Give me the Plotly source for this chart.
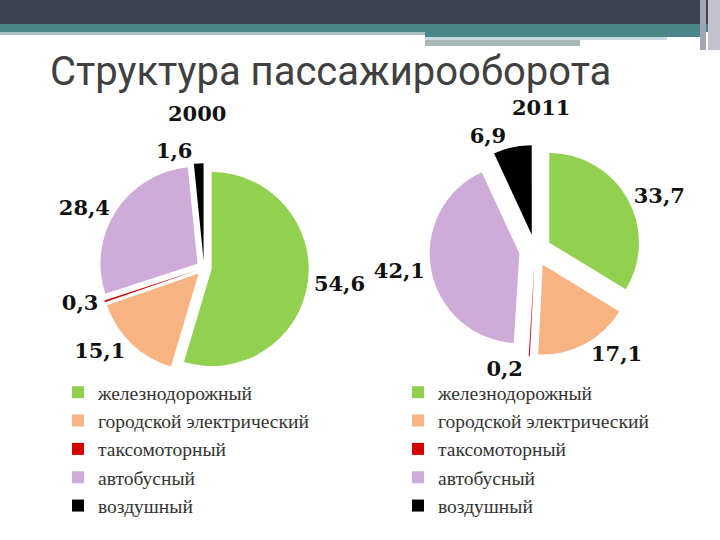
import plotly.graph_objects as go

categories = ["железнодорожный", "городской электрический", "таксомоторный", "автобусный", "воздушный"]
values_2000 = [54.6, 15.1, 0.3, 28.4, 1.6]
values_2011 = [33.7, 17.1, 0.2, 42.1, 6.9]
labels_2000 = ["54,6", "15,1", "0,3", "28,4", "1,6"]
labels_2011 = ["33,7", "17,1", "0,2", "42,1", "6,9"]
years = ["2000", "2011"]
title_text = "Структура пассажирооборота"

colors = ["#92D050", "#F8B383", "#D40000", "#CEABD9", "#000000"]

W, H = 720, 540


def py(px):
    return 1 - px / H


def px_(x):
    return x / W


label_font = dict(family="DejaVu Serif", size=21, color="#111111", weight="bold")
legend_font = dict(family="Liberation Serif", size=19.5, color="#333333")

# second pie gets its own legend; labels made distinct so entries are not merged
labels_2011_legend = [c + "\u200b" for c in categories]

fig = go.Figure()
fig.add_trace(go.Pie(
    labels=categories, values=values_2000, text=labels_2000,
    textinfo="text", textposition="outside", sort=False, direction="clockwise",
    rotation=0, pull=[0.08] * 5, marker=dict(colors=colors, line=dict(width=0)),
    domain=dict(x=[0.1378, 0.4288], y=[0.3097, 0.6977]), outsidetextfont=label_font,
    legend="legend", hoverinfo="label+value",
))
fig.add_trace(go.Pie(
    labels=labels_2011_legend, values=values_2011, text=labels_2011,
    textinfo="text", textposition="outside", sort=False, direction="clockwise",
    rotation=0, pull=[0.18] * 5, marker=dict(colors=colors, line=dict(width=0)),
    domain=dict(x=[0.5964, 0.8903], y=[0.34, 0.7319]), outsidetextfont=label_font,
    legend="legend2", hoverinfo="label+value",
))

shapes = [
    dict(type="rect", x0=0, x1=1, y0=py(24), y1=1, fillcolor="#3F4253"),
    dict(type="rect", x0=0, x1=1, y0=py(32), y1=py(24), fillcolor="#4A8589"),
    dict(type="rect", x0=0, x1=px_(425), y0=py(35), y1=py(32), fillcolor="#AAC0C2"),
    dict(type="rect", x0=px_(425), x1=px_(700), y0=py(37), y1=py(32), fillcolor="#4A8589"),
    dict(type="rect", x0=px_(425), x1=px_(667), y0=py(40), y1=py(37), fillcolor="#C6DCDE"),
    dict(type="rect", x0=px_(425), x1=px_(580), y0=py(46), y1=py(40), fillcolor="#A8B6B6"),
    dict(type="rect", x0=px_(700), x1=px_(706), y0=py(50), y1=1, fillcolor="#9FA8B0"),
    dict(type="rect", x0=px_(708), x1=1, y0=py(50), y1=1, fillcolor="#C4C2CE"),
]
for s in shapes:
    s.update(xref="paper", yref="paper", line=dict(width=0), layer="below")

annotations = [
    dict(text=title_text, x=px_(330), y=py(71), xanchor="center", yanchor="middle",
         showarrow=False, font=dict(family="Roboto", size=40, color="#404040")),
    dict(text=years[0], x=px_(197), y=py(113), xanchor="center", yanchor="middle",
         showarrow=False, font=label_font),
    dict(text=years[1], x=px_(541), y=py(108), xanchor="center", yanchor="middle",
         showarrow=False, font=label_font),
]
for a in annotations:
    a.update(xref="paper", yref="paper")

fig.update_layout(
    width=W, height=H, margin=dict(l=0, r=0, t=0, b=0, pad=0, autoexpand=False),
    paper_bgcolor="white", plot_bgcolor="white",
    font=dict(family="Liberation Serif", color="#333333"),
    shapes=shapes, annotations=annotations,
    legend=dict(x=px_(58), y=py(373), xanchor="left", yanchor="top", font=legend_font,
                bgcolor="rgba(0,0,0,0)", itemwidth=30),
    legend2=dict(x=px_(398), y=py(373), xanchor="left", yanchor="top", font=legend_font,
                 bgcolor="rgba(0,0,0,0)", itemwidth=30),
)

fig.write_html("out.html", config={"displayModeBar": False},
               post_script="document.body.style.margin='0';")
